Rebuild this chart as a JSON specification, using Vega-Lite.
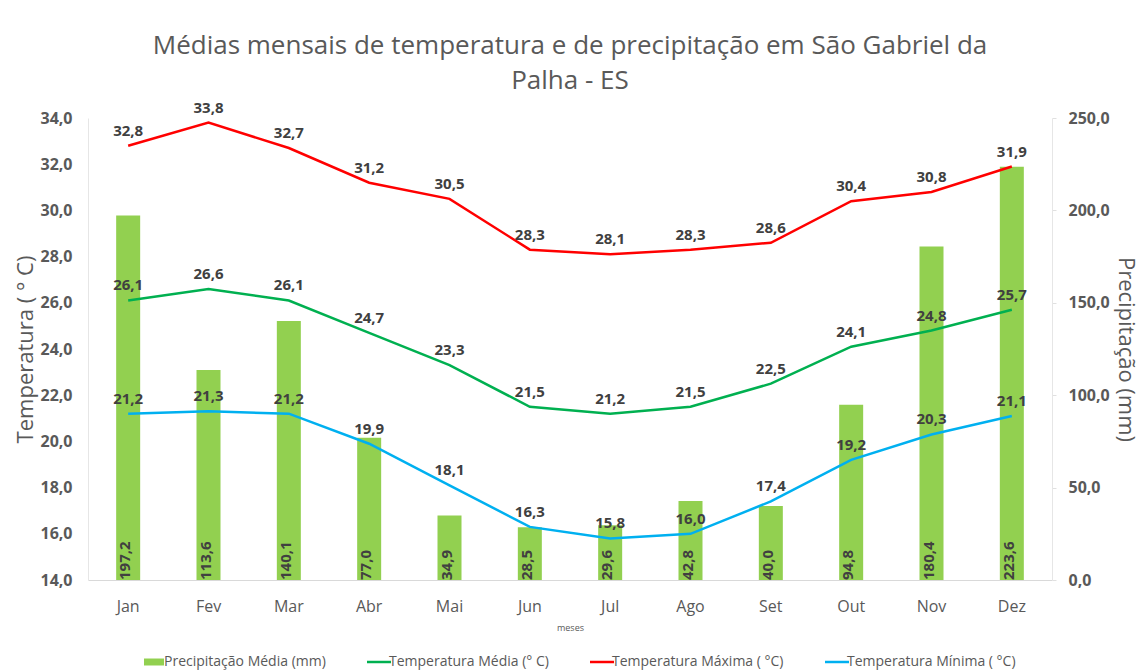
{
  "$schema": "https://vega.github.io/schema/vega-lite/v6.json",
  "width": 964,
  "height": 462,
  "autosize": {"type": "none"},
  "padding": {"left": 88, "top": 118, "right": 93, "bottom": 91},
  "background": "white",
  "config": {
    "locale": {"number": {"decimal": ",", "thousands": ".", "grouping": [3], "currency": ["R$ ", ""]}},
    "font": "Open Sans",
    "view": {"stroke": null}
  },
  "title": {
    "text": ["Médias mensais de temperatura e de precipitação em São Gabriel da", "Palha - ES"],
    "fontSize": 26,
    "fontWeight": "normal",
    "color": "#595959",
    "lineHeight": 35,
    "offset": 7,
    "anchor": "middle"
  },
  "datasets": {
    "precip": [
      {"mes": "Jan", "serie": "Precipitação Média (mm)", "valor": 197.2},
      {"mes": "Fev", "serie": "Precipitação Média (mm)", "valor": 113.6},
      {"mes": "Mar", "serie": "Precipitação Média (mm)", "valor": 140.1},
      {"mes": "Abr", "serie": "Precipitação Média (mm)", "valor": 77.0},
      {"mes": "Mai", "serie": "Precipitação Média (mm)", "valor": 34.9},
      {"mes": "Jun", "serie": "Precipitação Média (mm)", "valor": 28.5},
      {"mes": "Jul", "serie": "Precipitação Média (mm)", "valor": 29.6},
      {"mes": "Ago", "serie": "Precipitação Média (mm)", "valor": 42.8},
      {"mes": "Set", "serie": "Precipitação Média (mm)", "valor": 40.0},
      {"mes": "Out", "serie": "Precipitação Média (mm)", "valor": 94.8},
      {"mes": "Nov", "serie": "Precipitação Média (mm)", "valor": 180.4},
      {"mes": "Dez", "serie": "Precipitação Média (mm)", "valor": 223.6}
    ],
    "temp": [
      {"mes": "Jan", "serie": "Temperatura Média (° C)", "valor": 26.1},
      {"mes": "Fev", "serie": "Temperatura Média (° C)", "valor": 26.6},
      {"mes": "Mar", "serie": "Temperatura Média (° C)", "valor": 26.1},
      {"mes": "Abr", "serie": "Temperatura Média (° C)", "valor": 24.7},
      {"mes": "Mai", "serie": "Temperatura Média (° C)", "valor": 23.3},
      {"mes": "Jun", "serie": "Temperatura Média (° C)", "valor": 21.5},
      {"mes": "Jul", "serie": "Temperatura Média (° C)", "valor": 21.2},
      {"mes": "Ago", "serie": "Temperatura Média (° C)", "valor": 21.5},
      {"mes": "Set", "serie": "Temperatura Média (° C)", "valor": 22.5},
      {"mes": "Out", "serie": "Temperatura Média (° C)", "valor": 24.1},
      {"mes": "Nov", "serie": "Temperatura Média (° C)", "valor": 24.8},
      {"mes": "Dez", "serie": "Temperatura Média (° C)", "valor": 25.7},
      {"mes": "Jan", "serie": "Temperatura Máxima ( °C)", "valor": 32.8},
      {"mes": "Fev", "serie": "Temperatura Máxima ( °C)", "valor": 33.8},
      {"mes": "Mar", "serie": "Temperatura Máxima ( °C)", "valor": 32.7},
      {"mes": "Abr", "serie": "Temperatura Máxima ( °C)", "valor": 31.2},
      {"mes": "Mai", "serie": "Temperatura Máxima ( °C)", "valor": 30.5},
      {"mes": "Jun", "serie": "Temperatura Máxima ( °C)", "valor": 28.3},
      {"mes": "Jul", "serie": "Temperatura Máxima ( °C)", "valor": 28.1},
      {"mes": "Ago", "serie": "Temperatura Máxima ( °C)", "valor": 28.3},
      {"mes": "Set", "serie": "Temperatura Máxima ( °C)", "valor": 28.6},
      {"mes": "Out", "serie": "Temperatura Máxima ( °C)", "valor": 30.4},
      {"mes": "Nov", "serie": "Temperatura Máxima ( °C)", "valor": 30.8},
      {"mes": "Dez", "serie": "Temperatura Máxima ( °C)", "valor": 31.9},
      {"mes": "Jan", "serie": "Temperatura Mínima ( °C)", "valor": 21.2},
      {"mes": "Fev", "serie": "Temperatura Mínima ( °C)", "valor": 21.3},
      {"mes": "Mar", "serie": "Temperatura Mínima ( °C)", "valor": 21.2},
      {"mes": "Abr", "serie": "Temperatura Mínima ( °C)", "valor": 19.9},
      {"mes": "Mai", "serie": "Temperatura Mínima ( °C)", "valor": 18.1},
      {"mes": "Jun", "serie": "Temperatura Mínima ( °C)", "valor": 16.3},
      {"mes": "Jul", "serie": "Temperatura Mínima ( °C)", "valor": 15.8},
      {"mes": "Ago", "serie": "Temperatura Mínima ( °C)", "valor": 16.0},
      {"mes": "Set", "serie": "Temperatura Mínima ( °C)", "valor": 17.4},
      {"mes": "Out", "serie": "Temperatura Mínima ( °C)", "valor": 19.2},
      {"mes": "Nov", "serie": "Temperatura Mínima ( °C)", "valor": 20.3},
      {"mes": "Dez", "serie": "Temperatura Mínima ( °C)", "valor": 21.1}
    ]
  },
  "encoding": {
    "x": {
      "field": "mes",
      "type": "ordinal",
      "scale": {"domain": ["Jan", "Fev", "Mar", "Abr", "Mai", "Jun", "Jul", "Ago", "Set", "Out", "Nov", "Dez"], "paddingInner": 0, "paddingOuter": 0},
      "axis": {
        "title": "meses",
        "titleFontSize": 9,
        "titleFontWeight": "normal",
        "titleColor": "#595959",
        "titlePadding": 9,
        "labelAngle": 0,
        "labelFontSize": 16,
        "labelColor": "#595959",
        "labelPadding": 18,
        "ticks": false,
        "domainColor": "#d9d9d9",
        "grid": false
      }
    }
  },
  "layer": [
    {
      "data": {"name": "precip"},
      "layer": [
        {
          "mark": {"type": "bar", "size": 24},
          "encoding": {
            "y": {
              "field": "valor",
              "type": "quantitative",
              "scale": {"domain": [0, 250], "nice": false},
              "axis": {
                "orient": "right",
                "title": "Precipitação (mm)",
                "titleFontSize": 22,
                "titleFontWeight": "normal",
                "titleColor": "#595959",
                "titlePadding": 4,
                "values": [0, 50, 100, 150, 200, 250],
                "format": ".1f",
                "labelFontSize": 16,
                "labelFontWeight": "bold",
                "labelColor": "#595959",
                "labelPadding": 12,
                "tickSize": 4,
                "tickColor": "#e0e0e0",
                "domainColor": "#e6e6e6",
                "grid": false
              }
            },
            "color": {
              "field": "serie",
              "type": "nominal",
              "scale": {
                "domain": ["Precipitação Média (mm)", "Temperatura Média (° C)", "Temperatura Máxima ( °C)", "Temperatura Mínima ( °C)"],
                "range": ["#92D050", "#00B050", "#FF0000", "#00B0F0"]
              },
              "legend": {
                "orient": "none",
                "legendX": 59,
                "legendY": 537,
                "direction": "horizontal",
                "title": null,
                "padding": 0,
                "labelFontSize": 14,
                "labelLimit": 400,
                "labelColor": "#595959",
                "labelOffset": 3,
                "columnPadding": 36,
                "encode": {
                  "symbols": {
                    "update": {
                      "shape": {"signal": "datum.value === 'Precipitação Média (mm)' ? 'M-1,-0.35H1V0.35H-1Z' : 'stroke'"},
                      "size": {"signal": "datum.value === 'Precipitação Média (mm)' ? 400 : 576"},
                      "fill": {"scale": "color", "field": "value"},
                      "stroke": {"scale": "color", "field": "value"},
                      "strokeWidth": {"signal": "datum.value === 'Precipitação Média (mm)' ? 0 : 2.5"},
                      "opacity": {"value": 1}
                    }
                  }
                }
              }
            }
          }
        },
        {
          "mark": {"type": "text", "angle": 270, "align": "left", "baseline": "middle", "dy": -3, "fontSize": 15, "fontWeight": "bold", "color": "#404040"},
          "encoding": {
            "y": {"datum": 0, "type": "quantitative"},
            "text": {"field": "valor", "type": "quantitative", "format": ".1f"}
          }
        }
      ]
    },
    {
      "data": {"name": "temp"},
      "layer": [
        {
          "mark": {"type": "line", "strokeWidth": 2.5},
          "encoding": {
            "y": {
              "field": "valor",
              "type": "quantitative",
              "scale": {"domain": [14, 34], "zero": false, "nice": false},
              "axis": {
                "orient": "left",
                "title": "Temperatura ( ° C)",
                "titleFontSize": 22,
                "titleFontWeight": "normal",
                "titleColor": "#595959",
                "titlePadding": 2,
                "values": [14, 16, 18, 20, 22, 24, 26, 28, 30, 32, 34],
                "format": ".1f",
                "labelFontSize": 16,
                "labelFontWeight": "bold",
                "labelColor": "#595959",
                "labelPadding": 16,
                "ticks": false,
                "domainColor": "#e6e6e6",
                "grid": false
              }
            },
            "color": {"field": "serie", "type": "nominal"}
          }
        },
        {
          "mark": {"type": "text", "baseline": "bottom", "dy": -7, "fontSize": 15, "fontWeight": "bold", "color": "#404040"},
          "encoding": {
            "y": {"field": "valor", "type": "quantitative"},
            "text": {"field": "valor", "type": "quantitative", "format": ".1f"}
          }
        }
      ]
    }
  ],
  "resolve": {"scale": {"y": "independent"}}
}
